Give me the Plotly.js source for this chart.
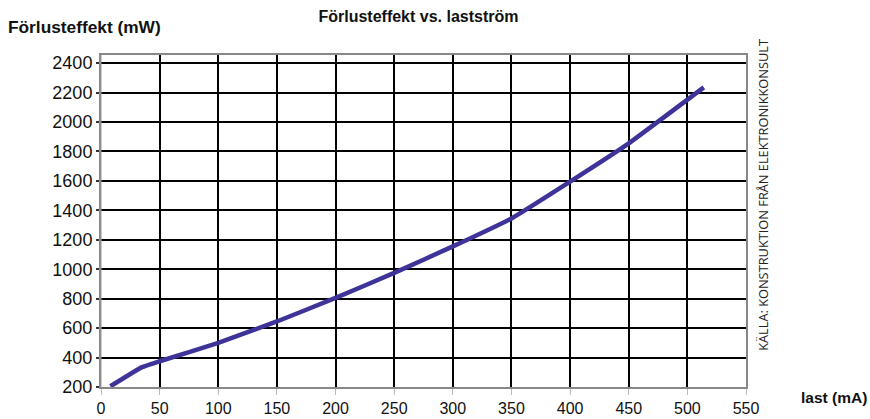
<!DOCTYPE html>
<html><head><meta charset="utf-8">
<script src="https://cdn.plot.ly/plotly-3.0.1.min.js"></script>
<style>body{margin:0;background:#fff}#c{width:870px;height:419px}</style>
</head><body><div id="c"></div>
<script>
const lastMA = [8, 35, 50, 100, 150, 200, 250, 300, 350, 400, 450, 514];
const effektMW = [205, 335, 375, 500, 645, 805, 975, 1155, 1345, 1595, 1855, 2235];
const xTicks = [0, 50, 100, 150, 200, 250, 300, 350, 400, 450, 500, 550];
const yTicks = [200, 400, 600, 800, 1000, 1200, 1400, 1600, 1800, 2000, 2200, 2400];

const font = 'Liberation Sans, Arial, sans-serif';
Plotly.newPlot('c', [{
  x: lastMA, y: effektMW, type: 'scatter', mode: 'lines',
  line: {color: '#3d3399', width: 4.5, shape: 'spline', smoothing: 0.3},
  hoverinfo: 'skip'
}], {
  width: 870, height: 419,
  margin: {l: 101, r: 124, t: 55, b: 32},
  paper_bgcolor: '#fff', plot_bgcolor: '#fff',
  showlegend: false,
  title: {text: '<b>Förlusteffekt vs. lastström</b>', x: 0.481, xanchor: 'center', y: 0.962, yanchor: 'middle',
    font: {family: font, size: 16, color: '#111'}},
  xaxis: {range: [0, 550], tickvals: xTicks, ticktext: xTicks.map(String),
    showgrid: true, gridcolor: '#000', gridwidth: 2, zeroline: false,
    showline: true, linecolor: '#888', linewidth: 2, mirror: true,
    ticks: 'outside', ticklen: 6, tickcolor: '#bbb', tickwidth: 1,
    tickfont: {family: font, size: 16, color: '#111'}},
  yaxis: {range: [200, 2455], tickvals: yTicks, ticktext: yTicks.map(String),
    showgrid: true, gridcolor: '#000', gridwidth: 2, zeroline: false,
    showline: true, linecolor: '#888', linewidth: 2, mirror: true,
    ticks: 'outside', ticklen: 3, tickcolor: '#333', tickwidth: 2,
    tickfont: {family: font, size: 18, color: '#111'}},
  shapes: [{type: 'line', xref: 'paper', yref: 'paper', x0: 0, x1: 0, y0: 0, y1: 1,
    line: {color: '#999', width: 1}, xsizemode: 'pixel', xanchor: 0}],
  annotations: [
    {text: '<b>Förlusteffekt (mW)</b>', xref: 'paper', yref: 'paper', x: -0.148, y: 1.084,
     xanchor: 'left', yanchor: 'middle', showarrow: false,
     font: {family: font, size: 17.3, color: '#111'}},
    {text: '<b>last (mA)</b>', xref: 'paper', yref: 'paper', x: 1.082, y: -0.033,
     xanchor: 'left', yanchor: 'middle', showarrow: false,
     font: {family: font, size: 15.5, color: '#111'}},
    {text: 'KÄLLA: KONSTRUKTION FRÅN ELEKTRONIKKONSULT', xref: 'paper', yref: 'paper',
     x: 1.026, y: 0.578, textangle: -90, xanchor: 'center', yanchor: 'middle', showarrow: false,
     font: {family: 'Open Sans, sans-serif', size: 12.8, color: '#222'}}
  ]
}, {staticPlot: true});
</script></body></html>
